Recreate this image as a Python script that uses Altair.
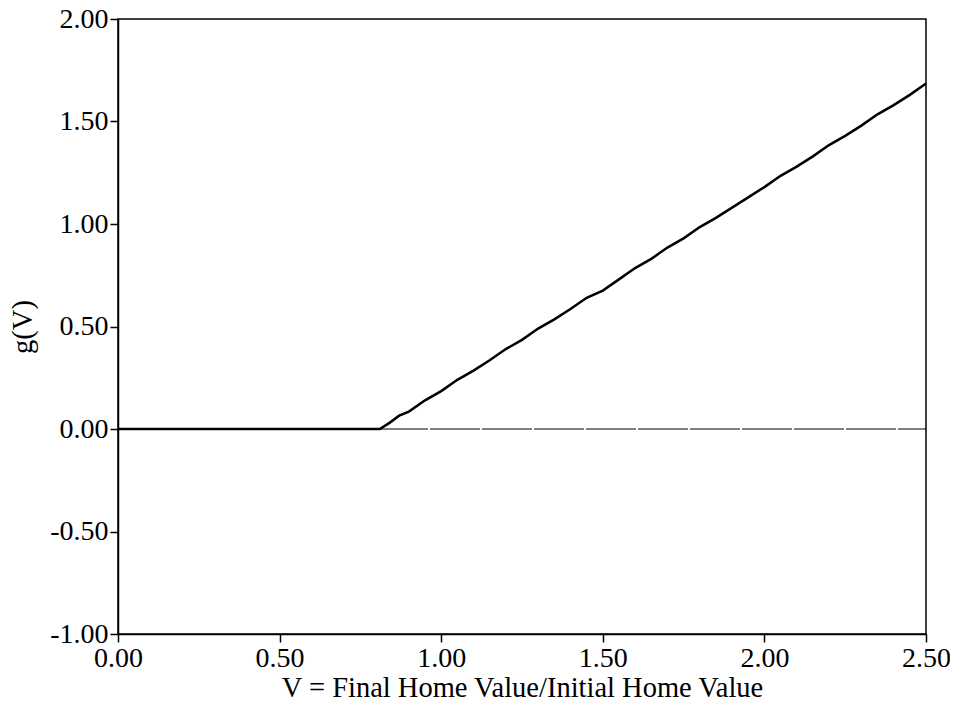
import altair as alt
import pandas as pd

V = [0.00, 0.10, 0.20, 0.30, 0.40, 0.50, 0.60, 0.70, 0.80, 0.81, 0.84, 0.87, 0.90, 0.95,
     1.00, 1.05, 1.10, 1.15, 1.20, 1.25, 1.30, 1.35, 1.40, 1.45, 1.50, 1.55, 1.60, 1.65,
     1.70, 1.75, 1.80, 1.85, 1.90, 1.95, 2.00, 2.05, 2.10, 2.15, 2.20, 2.25, 2.30, 2.35,
     2.40, 2.45, 2.50]
G = [0.00, 0.00, 0.00, 0.00, 0.00, 0.00, 0.00, 0.00, 0.00, 0.00, 0.03, 0.065, 0.085, 0.14,
     0.185, 0.24, 0.285, 0.335, 0.39, 0.435, 0.49, 0.535, 0.585, 0.64, 0.675, 0.73, 0.785, 0.83,
     0.885, 0.93, 0.985, 1.03, 1.08, 1.13, 1.18, 1.235, 1.28, 1.33, 1.385, 1.43, 1.48, 1.535,
     1.58, 1.63, 1.685]
ZERO_V = [0.00, 2.50]
ZERO_G = [0.00, 0.00]

df = pd.DataFrame({"V": V, "g": G})
dz = pd.DataFrame({"V": ZERO_V, "g": ZERO_G})

FONT = "Liberation Serif"
LBL = "datum.value < 0 ? '-' + format(-datum.value, '.2f') : format(datum.value, '.2f')"

xs = alt.Scale(domain=[0, 2.5], nice=False, zero=False)
ys = alt.Scale(domain=[-1, 2], nice=False, zero=False)

xaxis = alt.Axis(values=[0, 0.5, 1.0, 1.5, 2.0, 2.5], labelExpr=LBL, grid=False,
                 title="V = Final Home Value/Initial Home Value", titlePadding=1,
                 labelFlush=False)
yaxis = alt.Axis(values=[-1, -0.5, 0, 0.5, 1.0, 1.5, 2.0], labelExpr=LBL, grid=False,
                 title="g(V)", titlePadding=12, labelFlush=False)

zero = alt.Chart(dz).mark_line(color="black", strokeWidth=1.2, strokeDash=[50, 2]).encode(
    x=alt.X("V:Q", scale=xs, axis=xaxis),
    y=alt.Y("g:Q", scale=ys, axis=yaxis),
)
line = alt.Chart(df).mark_line(color="black", strokeWidth=2.5).encode(
    x=alt.X("V:Q", scale=xs),
    y=alt.Y("g:Q", scale=ys),
)

chart = (zero + line).properties(
    width=808, height=615,
    autosize=alt.AutoSizeParams(type="none"),
    padding={"left": 110, "top": 11, "right": 24, "bottom": 64},
).configure_view(stroke="black", strokeWidth=1.5).configure_axis(
    labelFont=FONT, titleFont=FONT, labelFontSize=28, titleFontSize=28.5,
    labelColor="black", titleColor="black", titleFontWeight="normal",
    domainColor="black", tickColor="black", tickSize=8, domainWidth=1.5, tickWidth=1.5,
    labelPadding=2,
)

chart.save("out.html", embed_options={"renderer": "svg", "actions": False})
